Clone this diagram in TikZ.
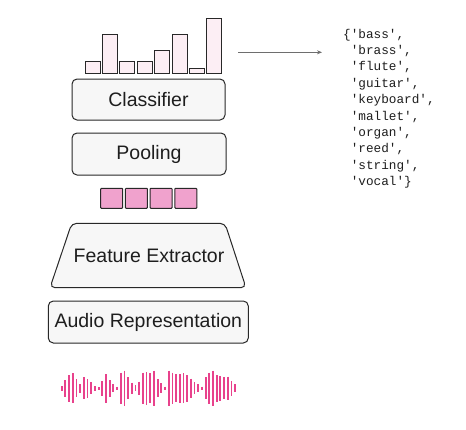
\documentclass[tikz,border=0pt]{standalone}
\usepackage{fontspec}
\setmainfont{Liberation Sans}
\setmonofont{Liberation Mono}
\usetikzlibrary{arrows.meta}
\definecolor{boxfill}{RGB}{247,247,247}
\definecolor{boxline}{RGB}{40,40,40}
\definecolor{barfill}{RGB}{252,238,244}
\definecolor{sqfill}{RGB}{240,162,205}
\definecolor{wave}{RGB}{232,66,140}
\definecolor{arrowgray}{RGB}{110,110,110}
\definecolor{txt}{RGB}{30,30,30}
\begin{document}
\begin{tikzpicture}[x=1pt,y=-1pt,
  block/.style={draw=boxline,fill=boxfill,line width=1pt,rounded corners=5pt,
     inner sep=0pt,font=\fontsize{19.5}{22}\selectfont,text=txt},
  histbar/.style={draw=boxline,fill=barfill,line width=1pt},
  featsq/.style={draw=boxline,fill=sqfill,line width=1pt,rounded corners=0.8pt,
     minimum width=22pt,minimum height=20pt,inner sep=0pt},
  codeline/.style={anchor=base west,inner sep=0pt,font=\ttfamily\fontsize{12.7}{16.4}\selectfont,text=txt},
  wavebar/.style={draw=wave,line width=1.8pt}]
\useasboundingbox (0,0) rectangle (466,429);
% histogram bars
\foreach \t [count=\i from 0] in {61,34,61,61,50.7,34,68.3,18.3}{
  \draw[histbar] ({85+17.4*\i},73.3) rectangle ({100+17.4*\i},\t);
}
% classifier and pooling
\node[block,minimum width=153pt,minimum height=41pt] (cls) at (148.5,99.5) {Classifier};
\node[block,minimum width=154pt,minimum height=42pt] (pool) at (149,154) {Pooling};
% feature squares
\foreach \i in {0,1,2,3}{
  \node[featsq] (sq\i) at ({111.7+24.7*\i},198.3) {};
}
% feature extractor trapezoid
\draw[draw=boxline,fill=boxfill,line width=1pt,rounded corners=5pt]
  (71.7,223.3) -- (225,223.3) -- (246,287.7) -- (50,287.7) -- cycle;
\node[inner sep=0pt,font=\fontsize{19.5}{22}\selectfont,text=txt] (fe) at (149,256) {Feature Extractor};
% audio representation
\node[block,minimum width=200pt,minimum height=42pt] (audio) at (148.3,322) {Audio Representation};
% arrow
\coordinate (as) at (238,52.3);
\coordinate (ae) at (322,52.3);
\draw[arrowgray,line width=0.8pt,-{Stealth[length=5pt,width=4pt]}] (as) -- (ae);
% class list
\node[codeline] (l1) at (343,38) {\{'bass',};
\node[codeline] (l2) at (350.6,54.4) {'brass',};
\node[codeline] (l3) at (350.6,70.8) {'flute',};
\node[codeline] (l4) at (350.6,87.2) {'guitar',};
\node[codeline] (l5) at (350.6,103.6) {'keyboard',};
\node[codeline] (l6) at (350.6,120.0) {'mallet',};
\node[codeline] (l7) at (350.6,136.4) {'organ',};
\node[codeline] (l8) at (350.6,152.8) {'reed',};
\node[codeline] (l9) at (350.6,169.2) {'string',};
\node[codeline] (l10) at (350.6,185.6) {'vocal'\}};
% waveform
\foreach \h [count=\i from 0] in {2.3,8.3,13.3,15,9,4.3,11,9.3,6,2.3,1.3,7.3,14.3,8.3,4,1.7,15.7,17.7,11,5.7,3,6.7,15.7,16.3,15,17.7,9,5,1.7,17.7,15.7,14,14.3,15,13.3,9.7,6,4,1.7,11,15.7,17.7,13.3,12.3,11,11.7,7.3,4}{
  \draw[wavebar] ({61.7+3.69*\i},{388.3-\h}) -- ({61.7+3.69*\i},{388.3+\h});
}
\end{tikzpicture}
\end{document}
